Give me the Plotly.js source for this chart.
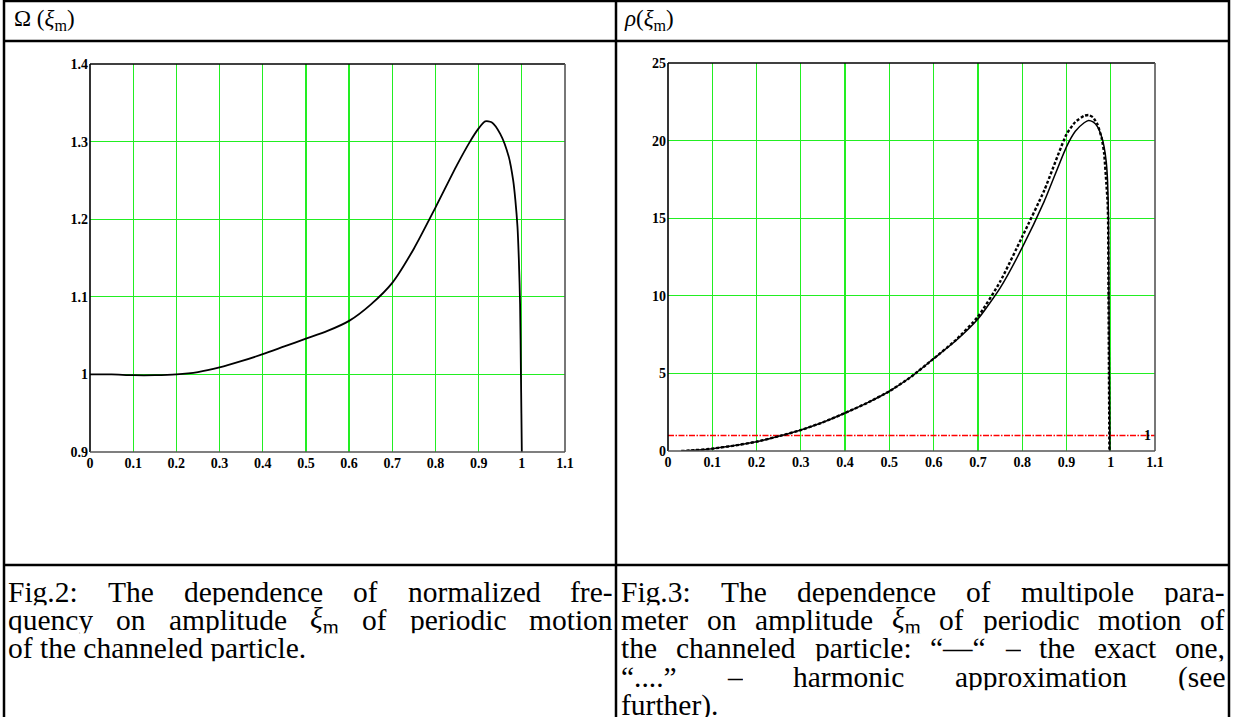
<!DOCTYPE html>
<html>
<head>
<meta charset="utf-8">
<script src="https://cdn.plot.ly/plotly-3.0.1.min.js"></script>
<style>html,body{margin:0;padding:0;background:#fff;}#chart{width:1234px;height:717px;}</style>
</head>
<body>
<div id="chart"></div>
<script>
// ---------- data ----------
var xTickVals = [0, 0.1, 0.2, 0.3, 0.4, 0.5, 0.6, 0.7, 0.8, 0.9, 1, 1.1];
var xTickText = ['0', '0.1', '0.2', '0.3', '0.4', '0.5', '0.6', '0.7', '0.8', '0.9', '1', '1.1'];
var omegaTickVals = [0.9, 1.0, 1.1, 1.2, 1.3, 1.4];
var omegaTickText = ['0.9', '1', '1.1', '1.2', '1.3', '1.4'];
var rhoTickVals = [0, 5, 10, 15, 20, 25];
var rhoTickText = ['0', '5', '10', '15', '20', '25'];

// Fig.2 : normalized frequency Omega(xi_m)
var omegaX = [0, 0.05, 0.1, 0.15, 0.2, 0.25, 0.3, 0.35, 0.4, 0.45, 0.5, 0.55, 0.6, 0.65, 0.7, 0.75, 0.8, 0.85, 0.88, 0.9, 0.915, 0.93, 0.95, 0.97, 0.98, 0.985, 0.99, 0.993, 0.996, 0.998, 0.999, 1.0];
var omegaY = [1.0, 1.0, 0.999, 0.999, 1.0, 1.003, 1.009, 1.017, 1.026, 1.036, 1.046, 1.056, 1.069, 1.09, 1.118, 1.162, 1.215, 1.27, 1.30, 1.317, 1.326, 1.325, 1.31, 1.28, 1.25, 1.225, 1.19, 1.15, 1.09, 1.0, 0.95, 0.9];

// Fig.3 : multipole parameter rho(xi_m)
var rhoX = [0.03, 0.05, 0.1, 0.15, 0.2, 0.25, 0.3, 0.35, 0.4, 0.45, 0.5, 0.55, 0.6, 0.65, 0.7, 0.75, 0.8, 0.85, 0.9, 0.92, 0.94, 0.95, 0.96, 0.97, 0.98, 0.985, 0.99, 0.993, 0.995, 0.996, 0.997, 0.998];
var rhoExact = [0, 0.03, 0.15, 0.35, 0.6, 0.95, 1.35, 1.85, 2.45, 3.1, 3.85, 4.8, 5.95, 7.1, 8.5, 10.5, 13.1, 16.1, 19.6, 20.6, 21.15, 21.3, 21.2, 20.9, 20.2, 19.6, 18.6, 17.3, 15.0, 10.0, 5.0, 0];
var rhoHarmX = [0.03, 0.05, 0.1, 0.15, 0.2, 0.25, 0.3, 0.35, 0.4, 0.45, 0.5, 0.55, 0.6, 0.65, 0.7, 0.75, 0.8, 0.85, 0.9, 0.92, 0.94, 0.95, 0.96, 0.97, 0.98, 0.985, 0.99, 0.993, 0.994, 0.995, 0.996, 0.997];
var rhoHarm = [0, 0.03, 0.15, 0.35, 0.6, 0.95, 1.35, 1.85, 2.45, 3.1, 3.85, 4.8, 5.95, 7.15, 8.65, 10.9, 13.8, 16.8, 20.4, 21.2, 21.6, 21.65, 21.5, 21.05, 20.1, 19.2, 17.3, 16.0, 15.0, 10.0, 5.0, 0];
var rhoLevel = 1;
var rhoLevelX = [0, 1.1];

// texts
var headLeft = 'Ω (<i>ξ</i><sub>m</sub>)';
var headRight = '<i>ρ</i>(<i>ξ</i><sub>m</sub>)';
var capLeft = [
  ['Fig.2:', 'The', 'dependence', 'of', 'normalized', 'fre-'],
  ['quency', 'on', 'amplitude', '#XI#', 'of', 'periodic', 'motion'],
  ['of the channeled particle.']
];
var capRight = [
  ['Fig.3:', 'The', 'dependence', 'of', 'multipole', 'para-'],
  ['meter', 'on', 'amplitude', '#XI#', 'of', 'periodic', 'motion', 'of'],
  ['the', 'channeled', 'particle:', '“—“', '–', 'the', 'exact', 'one,'],
  ['“....”', '–', 'harmonic', 'approximation', '(see'],
  ['further).']
];

// ---------- layout helpers ----------
var W = 1234, H = 717;
function px(x) { return x / W; }
function py(y) { return 1 - y / H; }

var FONT = '"Liberation Serif", serif';
var tickFont = {family: FONT, size: 14, color: '#000', weight: 'bold'};
var GRID = '#22ee22';
function bold(a) { return a.map(function (t) { return '<b>' + t + '</b>'; }); }

var shapes = [];
function pline(x0, y0, x1, y1, w, c) {
  shapes.push({type: 'line', xref: 'paper', yref: 'paper', x0: px(x0), y0: py(y0), x1: px(x1), y1: py(y1),
    line: {color: c || '#000', width: w}});
}
// table borders
pline(4, 1, 1229, 1, 2.5);
pline(4, 41, 1229, 41, 2.5);
pline(4, 565, 1229, 565, 2.5);
pline(4, 0, 4, 717, 2.5);
pline(616, 0, 616, 717, 2.5);
pline(1229, 0, 1229, 717, 2.5);

// plot frames
function frame(xa, ya) {
  var xr = xa + ' domain', yr = ya + ' domain';
  shapes.push({type: 'line', xref: xr, yref: yr, x0: 0, y0: 0, x1: 0, y1: 1, line: {color: '#000', width: 1.6}});
  shapes.push({type: 'line', xref: xr, yref: yr, x0: 0, y0: 1, x1: 1, y1: 1, line: {color: '#000', width: 1.6}});
  shapes.push({type: 'line', xref: xr, yref: yr, x0: 0, y0: 0, x1: 1, y1: 0, line: {color: '#555', width: 1.6}});
  shapes.push({type: 'line', xref: xr, yref: yr, x0: 1, y0: 0, x1: 1, y1: 1, line: {color: '#555', width: 1.6}});
}
frame('x', 'y');
frame('x2', 'y2');

// ---------- captions (justified) ----------
var annotations = [];
var CAP_SIZE = 29.5;
var LINE_H = 28.2;
var cv = document.createElement('canvas').getContext('2d');
function measure(word) {
  if (word === '#XI#') {
    cv.font = 'italic ' + CAP_SIZE + 'px "Liberation Serif"';
    var a = cv.measureText('ξ').width;
    cv.font = Math.round(CAP_SIZE * 0.7) + 'px "Liberation Serif"';
    return a + cv.measureText('m').width;
  }
  cv.font = CAP_SIZE + 'px "Liberation Serif"';
  return cv.measureText(word).width;
}
function rich(word) { return word === '#XI#' ? '<i>ξ</i><sub>m</sub>' : word; }
function addText(txt, x, y, size, h) {
  var a = {text: txt, xref: 'paper', yref: 'paper', x: px(x), y: py(y), xanchor: 'left', yanchor: 'middle',
    showarrow: false, font: {family: FONT, size: size, color: '#000'}, borderpad: 0};
  if (h) { a.height = h; }
  annotations.push(a);
}
function caption(lines, x0, x1, y0, dy) {
  lines.forEach(function (words, i) {
    var y = y0 + i * dy;
    var last = (i === lines.length - 1);
    if (last || words.length === 1) {
      addText(words.map(rich).join(' '), x0, y, CAP_SIZE, dy - 2);
      return;
    }
    var widths = words.map(measure);
    var total = widths.reduce(function (a, b) { return a + b; }, 0);
    var gap = (x1 - x0 - total) / (words.length - 1);
    var x = x0;
    words.forEach(function (w, k) {
      addText(rich(w), x, y, CAP_SIZE, dy - 2);
      x += widths[k] + gap;
    });
  });
}
caption(capLeft, 7, 612, 592, LINE_H);
caption(capRight, 620, 1224, 592, LINE_H);

// headers
addText(headLeft, 13, 20, 23);
addText(headRight, 623, 20, 23);

// level label "1"
annotations.push({text: '<b>1</b>', xref: 'x2', yref: 'y2', x: 1.1, y: rhoLevel, xanchor: 'right', yanchor: 'middle', xshift: -2,
  showarrow: false, font: tickFont});

// ---------- traces ----------
var traces = [
  {x: omegaX, y: omegaY, xaxis: 'x', yaxis: 'y', mode: 'lines', line: {color: '#000', width: 1.8, shape: 'spline', smoothing: 0.7}, hoverinfo: 'skip'},
  {x: rhoLevelX, y: rhoLevelX.map(function () { return rhoLevel; }), xaxis: 'x2', yaxis: 'y2', mode: 'lines',
    line: {color: '#ff0000', width: 1.4, dash: '6px,1.5px,1.5px,1.5px'}, hoverinfo: 'skip'},
  {x: rhoX, y: rhoExact, xaxis: 'x2', yaxis: 'y2', mode: 'lines', line: {color: '#000', width: 1.5, shape: 'spline', smoothing: 0.5}, hoverinfo: 'skip'},
  {x: rhoHarmX, y: rhoHarm, xaxis: 'x2', yaxis: 'y2', mode: 'lines', line: {color: '#000', width: 2.4, dash: '3px,2px', shape: 'spline', smoothing: 0.5}, hoverinfo: 'skip'}
];

function xAxis(dom, anchor) {
  return {domain: dom, anchor: anchor, range: [0, 1.1], tickmode: 'array', tickvals: xTickVals, ticktext: bold(xTickText),
    showgrid: true, gridcolor: GRID, gridwidth: 1.2, zeroline: false, showline: false, ticks: '', tickfont: tickFont,
    ticklabelstandoff: 1, fixedrange: true};
}
function yAxis(dom, anchor, range, vals, text) {
  return {domain: dom, anchor: anchor, range: range, tickmode: 'array', tickvals: vals, ticktext: bold(text),
    showgrid: true, gridcolor: GRID, gridwidth: 1.2, zeroline: false, showline: false, ticks: '', tickfont: tickFont,
    ticklabelstandoff: 1, fixedrange: true};
}

var layout = {
  width: W, height: H, margin: {l: 0, r: 0, t: 0, b: 0}, paper_bgcolor: '#fff', plot_bgcolor: '#fff',
  showlegend: false,
  xaxis: xAxis([px(90), px(565)], 'y'),
  yaxis: yAxis([py(452), py(64)], 'x', [0.9, 1.4], omegaTickVals, omegaTickText),
  xaxis2: xAxis([px(668), px(1155)], 'y2'),
  yaxis2: yAxis([py(451), py(63)], 'x2', [0, 25], rhoTickVals, rhoTickText),
  shapes: shapes,
  annotations: annotations
};

Plotly.newPlot('chart', traces, layout, {displayModeBar: false, staticPlot: true});
</script>
</body>
</html>
